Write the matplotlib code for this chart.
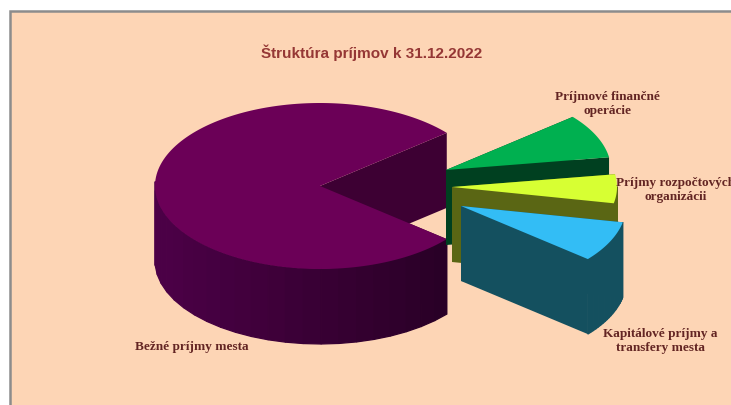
import matplotlib.pyplot as plt
from matplotlib.patches import Polygon, Rectangle
import numpy as np

# Slices, counter-clockwise starting from the big one
categories = ["Bežné príjmy mesta", "Kapitálové príjmy a\ntransfery mesta",
              "Príjmy rozpočtových\norganizácii", "Príjmové finančné\noperácie"]
values = [77.9, 7.9, 5.6, 8.6]

top_colors = ["#6b0057", "#33bdf5", "#d7ff33", "#00b050"]
wall_colors = ["#3d0033", "#14505f", "#5a6614", "#004020"]

# pixel layout of the fake 3D pie
centers = [(320, 187), (461, 207), (452, 188), (446, 171)]
layers = [1, 4, 3, 2]  # painted back to front
rx, ry = 165, 83
depth = 75
start_angle = 39.8
bg = "#fdd5b5"

fig = plt.figure(figsize=(7.31, 4.06), dpi=100)
ax = fig.add_axes([0, 0, 1, 1])
ax.set_xlim(0, 731)
ax.set_ylim(406, 0)
ax.axis("off")

# Panel with grey frame on the left and top
ax.add_patch(Rectangle((10, 12), 730, 400, facecolor=bg, edgecolor="#8c8c8c", linewidth=1.8, zorder=0))


def point(c, a):
    return c[0] + rx * np.cos(a), c[1] - ry * np.sin(a)


def shade(x):
    # side of the big slice gets darker to the right
    t = np.clip((x - 155) / 290, 0, 1)
    return (0.30 - 0.14 * t, 0, 0.28 - 0.13 * t)


fractions = np.array(values) / sum(values)
angle = np.radians(start_angle)
for i, frac in enumerate(fractions):
    a0 = angle
    a1 = angle + frac * 2 * np.pi
    angle = a1
    c = centers[i]
    z = layers[i]

    # straight cut faces
    for a in (a1, a0):
        x, y = point(c, a)
        ax.add_patch(Polygon([c, (x, y), (x, y + depth), (c[0], c[1] + depth)],
                             facecolor=wall_colors[i], edgecolor="none", zorder=z))

    # outer curved face, only the part turned to the viewer
    steps = np.linspace(a0, a1, 46 if i == 0 else 20)
    for s0, s1 in zip(steps[:-1], steps[1:]):
        if np.sin((s0 + s1) / 2) >= 0:
            continue
        p0, p1 = point(c, s0), point(c, s1)
        col = shade((p0[0] + p1[0]) / 2) if i == 0 else wall_colors[i]
        ax.add_patch(Polygon([p0, p1, (p1[0], p1[1] + depth), (p0[0], p0[1] + depth)],
                             facecolor=col, edgecolor=col, linewidth=0.9, zorder=z))

    # top face
    arc = np.linspace(a0, a1, 160)
    outline = [c] + [point(c, a) for a in arc]
    ax.add_patch(Polygon(outline, facecolor=top_colors[i], edgecolor="none", zorder=z + 0.5))

# Labels
label_style = dict(family="Liberation Serif", fontweight="bold", fontsize=9.5, color="#632523",
                   ha="center", va="center", linespacing=1.2, zorder=10)
ax.text(191.5, 347, categories[0], **label_style)
ax.text(660, 341, categories[1], **label_style)
ax.text(676, 190, categories[2], **label_style)
ax.text(607, 104, categories[3], **label_style)

ax.text(372, 53, "Štruktúra príjmov k 31.12.2022", family="Liberation Sans", fontweight="bold",
        fontsize=11, color="#953735", ha="center", va="center", zorder=10)

fig.savefig("out.png", dpi=100, facecolor="white")
